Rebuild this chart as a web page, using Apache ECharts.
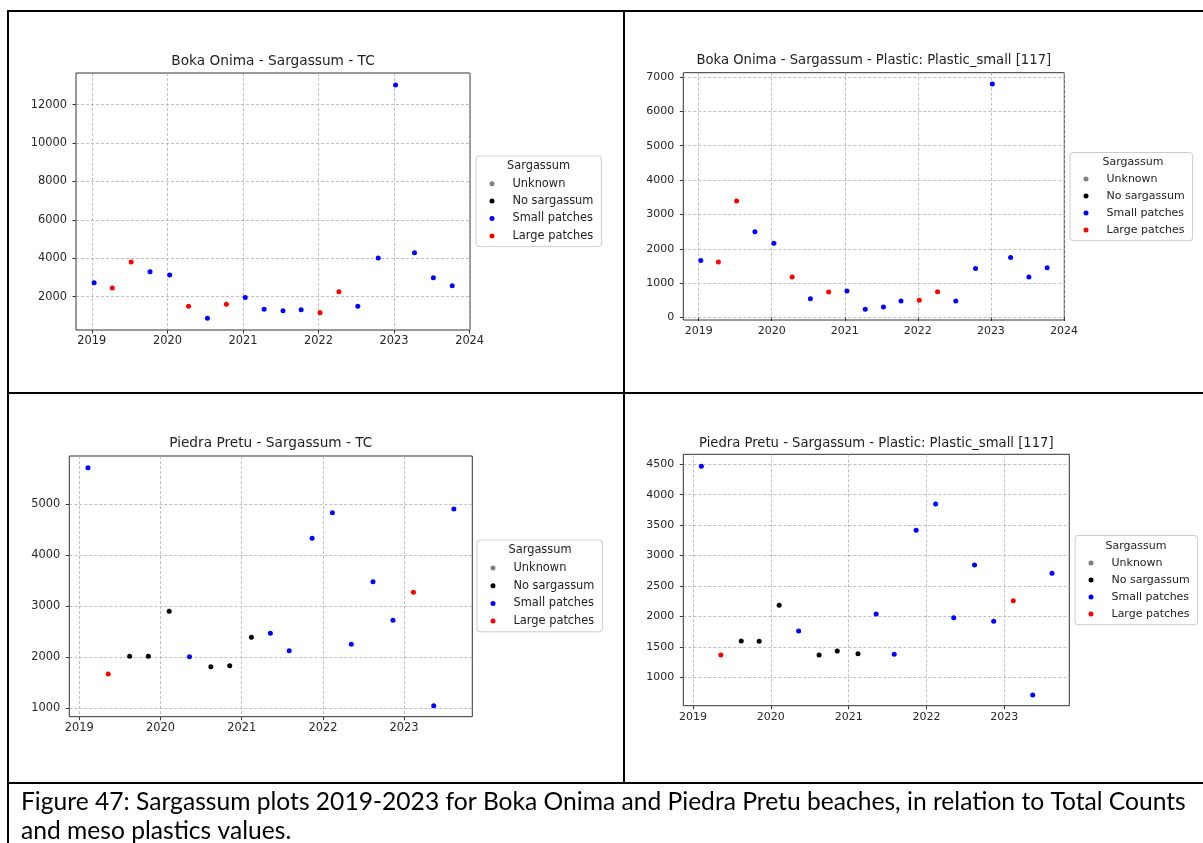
<!DOCTYPE html>
<html><head><meta charset="utf-8">
<script src="https://cdn.jsdelivr.net/npm/echarts@6/dist/echarts.min.js"></script>
<style>html,body{margin:0;padding:0;background:#fff}#c{width:1203px;height:843px}</style>
</head><body><div id="c"></div>
<script>
// ---------- DATA ----------
const categories = ['Unknown', 'No sargassum', 'Small patches', 'Large patches'];

const bokaDates = [2019.03, 2019.27, 2019.52, 2019.77, 2020.03, 2020.28, 2020.53, 2020.78, 2021.03, 2021.28,
                   2021.53, 2021.77, 2022.02, 2022.27, 2022.52, 2022.79, 2023.02, 2023.27, 2023.52, 2023.77];
const bokaSargassum = ['Small patches', 'Large patches', 'Large patches', 'Small patches', 'Small patches',
                       'Large patches', 'Small patches', 'Large patches', 'Small patches', 'Small patches',
                       'Small patches', 'Small patches', 'Large patches', 'Large patches', 'Small patches',
                       'Small patches', 'Small patches', 'Small patches', 'Small patches', 'Small patches'];
const bokaTC = [2731, 2453, 3807, 3302, 3130, 1500, 875, 1604, 1964, 1344,
                1271, 1323, 1167, 2260, 1500, 4015, 13026, 4292, 2990, 2573];
const bokaPlastic = [1663, 1615, 3394, 2495, 2166, 1180, 551, 745, 774, 242,
                     309, 484, 503, 754, 484, 1431, 6798, 1750, 1180, 1450];

const piedraDates = [2019.107, 2019.357, 2019.62, 2019.85, 2020.107, 2020.357, 2020.62, 2020.853, 2021.12, 2021.353,
                     2021.585, 2021.867, 2022.117, 2022.35, 2022.617, 2022.863, 2023.115, 2023.365, 2023.613];
const piedraSargassum = ['Small patches', 'Large patches', 'No sargassum', 'No sargassum', 'No sargassum',
                         'Small patches', 'No sargassum', 'No sargassum', 'No sargassum', 'Small patches',
                         'Small patches', 'Small patches', 'Small patches', 'Small patches', 'Small patches',
                         'Small patches', 'Large patches', 'Small patches', 'Small patches'];
const piedraTC = [5719, 1666, 2014, 2014, 2898, 2006, 1810, 1830, 2387, 2466,
                  2124, 4332, 4835, 2250, 3480, 2721, 3271, 1044, 4908];
const piedraPlastic = [4467, 1367, 1597, 1592, 2183, 1761, 1367, 1432, 1388, 2040,
                       1378, 3415, 3848, 1980, 2845, 1920, 2259, 709, 2709];

const xTicksBoka = [2019, 2020, 2021, 2022, 2023, 2024];
const xTicksPiedra = [2019, 2020, 2021, 2022, 2023];
const yTicksBokaTC = [2000, 4000, 6000, 8000, 10000, 12000];
const yTicksBokaPlastic = [0, 1000, 2000, 3000, 4000, 5000, 6000, 7000];
const yTicksPiedraTC = [1000, 2000, 3000, 4000, 5000];
const yTicksPiedraPlastic = [1000, 1500, 2000, 2500, 3000, 3500, 4000, 4500];

const titles = ['Boka Onima - Sargassum - TC', 'Boka Onima - Sargassum - Plastic: Plastic_small [117]',
                'Piedra Pretu - Sargassum - TC', 'Piedra Pretu - Sargassum - Plastic: Plastic_small [117]'];
const legendTitle = 'Sargassum';
const captionLines = ['Figure 47: Sargassum plots 2019-2023 for Boka Onima and Piedra Pretu beaches, in relation to Total Counts',
                      'and meso plastics values.'];

// ---------- STYLE / LAYOUT ----------
const catColors = {'Unknown': '#808080', 'No sargassum': '#000000', 'Small patches': '#0000ff', 'Large patches': '#ff0000'};
const FONT = 'DejaVu Sans';
const panels = [
  {dates: bokaDates, vals: bokaTC, cats: bokaSargassum, xt: xTicksBoka, yt: yTicksBokaTC,
   grid: {left: 76, top: 73, width: 394, height: 257}, xr: [2018.79, 2024.005], yr: [266, 13650], yi: 2000,
   fs: 11.4, tfs: 13.7, tpos: [273, 61.7], leg: {left: 476, top: 156, pt: 21.7, gap: 5.4}, ltpos: [538.5, 165.7]},
  {dates: bokaDates, vals: bokaPlastic, cats: bokaSargassum, xt: xTicksBoka, yt: yTicksBokaPlastic,
   grid: {left: 683.3, top: 72.7, width: 381, height: 247.3}, xr: [2018.79, 2024.005], yr: [-70, 7125], yi: 1000,
   fs: 11, tfs: 13.2, tpos: [873.8, 60.7], leg: {left: 1070, top: 152.5, pt: 20.5, gap: 5}, ltpos: [1133, 162]},
  {dates: piedraDates, vals: piedraTC, cats: piedraSargassum, xt: xTicksPiedra, yt: yTicksPiedraTC,
   grid: {left: 69.3, top: 456, width: 403, height: 260.7}, xr: [2018.877, 2023.84], yr: [829, 5949], yi: 1000,
   fs: 11.4, tfs: 13.7, tpos: [270.8, 443.3], leg: {left: 477, top: 540, pt: 22, gap: 5.7}, ltpos: [540, 550]},
  {dates: piedraDates, vals: piedraPlastic, cats: piedraSargassum, xt: xTicksPiedra, yt: yTicksPiedraPlastic,
   grid: {left: 683.3, top: 454.3, width: 386, height: 251.4}, xr: [2018.875, 2023.835], yr: [533, 4664], yi: 500,
   fs: 11, tfs: 13.2, tpos: [876.3, 443.3], leg: {left: 1075, top: 535.5, pt: 21.5, gap: 5}, ltpos: [1136, 546]}
];

const grids = [], xAxes = [], yAxes = [], series = [], legends = [], graphics = [];
const splitStyle = {show: true, lineStyle: {color: '#b0b0b0', width: 0.8, type: [3, 2]}};
panels.forEach((p, i) => {
  grids.push(Object.assign({show: true, borderColor: '#333', borderWidth: 1, backgroundColor: 'transparent'}, p.grid));
  const tickStyle = {show: true, inside: false, length: 3.5, lineStyle: {color: '#333', width: 1}};
  xAxes.push({type: 'value', gridIndex: i, min: p.xr[0], max: p.xr[1], minInterval: 1, maxInterval: 1, splitNumber: 5,
    axisLine: {show: false}, axisTick: Object.assign({customValues: p.xt}, tickStyle),
    axisLabel: {customValues: p.xt, formatter: v => String(Math.round(v)), margin: 6, fontFamily: FONT, fontSize: p.fs, color: '#262626'},
    splitLine: splitStyle});
  yAxes.push({type: 'value', gridIndex: i, min: p.yr[0], max: p.yr[1], minInterval: p.yi, maxInterval: p.yi, splitNumber: 5,
    axisLine: {show: false}, axisTick: Object.assign({customValues: p.yt}, tickStyle),
    axisLabel: {customValues: p.yt, formatter: v => String(Math.round(v)), margin: 9, fontFamily: FONT, fontSize: p.fs, color: '#262626'},
    splitLine: splitStyle});
  categories.forEach(cat => {
    const data = [];
    p.dates.forEach((d, k) => { if (p.cats[k] === cat) data.push([d, p.vals[k]]); });
    series.push({type: 'scatter', name: cat, xAxisIndex: i, yAxisIndex: i, symbol: 'circle', symbolSize: 5,
      itemStyle: {color: catColors[cat], opacity: 1}, data: data, silent: true, z: 3});
  });
  legends.push({show: true, orient: 'vertical', left: p.leg.left, top: p.leg.top, selectedMode: false,
    data: categories.map(n => ({name: n, icon: 'circle'})), itemWidth: 5, itemHeight: 5, itemGap: p.leg.gap,
    padding: [p.leg.pt, 8, 4.7, 13.5], borderColor: '#cccccc', borderWidth: 1, borderRadius: 3, backgroundColor: '#ffffff',
    textStyle: {fontFamily: FONT, fontSize: p.fs, color: '#222', lineHeight: 12, padding: [0, 0, 0, 13]}});
  graphics.push({type: 'text', x: p.tpos[0], y: p.tpos[1], z: 100,
    style: {text: titles[i], fontFamily: FONT, fontSize: p.tfs, fill: '#222', align: 'center', verticalAlign: 'middle'}});
  graphics.push({type: 'text', x: p.ltpos[0], y: p.ltpos[1], z: 100,
    style: {text: legendTitle, fontFamily: FONT, fontSize: p.fs, fill: '#222', align: 'center', verticalAlign: 'middle'}});
});

// table lines
const tl = (x1, y1, x2, y2) => ({type: 'line', z: 100, shape: {x1, y1, x2, y2}, style: {stroke: '#000', lineWidth: 2}});
graphics.push(tl(7, 11, 1203, 11), tl(8, 10, 8, 843), tl(624, 10, 624, 784), tl(7, 393, 1203, 393), tl(7, 783, 1203, 783));

// caption, fitted to the reference width
const capFont = 'Lato';
const cv = document.createElement('canvas').getContext('2d');
cv.font = '100px ' + capFont;
const w100 = cv.measureText(captionLines[0]).width;
const capSize = 100 * 1165 / w100;
graphics.push({type: 'text', x: 21, y: 802.5, z: 100, style: {text: captionLines[0], fontFamily: capFont, fontSize: capSize, fill: '#000', align: 'left', verticalAlign: 'middle'}});
graphics.push({type: 'text', x: 21, y: 831.5, z: 100, style: {text: captionLines[1], fontFamily: capFont, fontSize: capSize, fill: '#000', align: 'left', verticalAlign: 'middle'}});

const chart = echarts.init(document.getElementById('c'), null, {renderer: 'canvas'});
chart.setOption({animation: false, backgroundColor: '#ffffff', grid: grids, xAxis: xAxes, yAxis: yAxes,
  series: series, legend: legends, graphic: graphics, tooltip: {show: false}});
</script>
</body></html>
